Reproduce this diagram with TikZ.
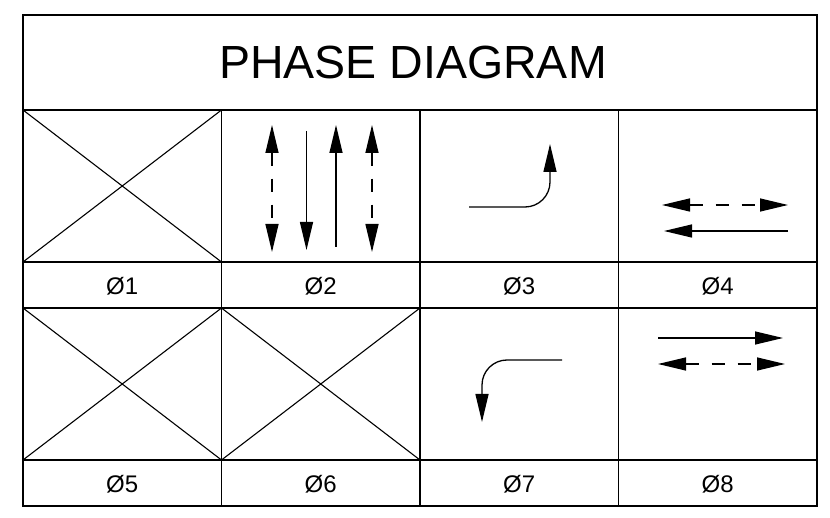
\documentclass[tikz,border=0pt]{standalone}
\usepackage{fontspec}
\setmainfont{Liberation Sans}
\usetikzlibrary{arrows.meta}
\begin{document}
\begin{tikzpicture}[x=1pt,y=-1pt,
  grid/.style={line width=1.9pt},
  cross/.style={line width=1.1pt},
  arr/.style={line width=1.3pt,-{Triangle[length=28pt,width=13pt]}},
  darr/.style={line width=1.3pt,{Triangle[length=28pt,width=13pt]}-{Triangle[length=28pt,width=13pt]},dash pattern=on 13pt off 13pt},
  lbl/.style={font=\fontsize{24}{26}\selectfont,inner sep=0pt},
  ttl/.style={font=\fontsize{46.5}{50}\selectfont,inner sep=0pt}]
\useasboundingbox (0,0) rectangle (830,518);
% grid
\draw[grid] (23,15) rectangle (817,506);
\draw[grid] (23,110) -- (817,110);
\draw[grid] (23,262) -- (817,262);
\draw[grid] (23,308) -- (817,308);
\draw[grid] (23,460) -- (817,460);
\foreach \x in {221.5,420,618.5} \draw[grid] (\x,110) -- (\x,506);
% title
\node[ttl] (title) at (413,62) {PHASE DIAGRAM};
% crosses
\draw[cross] (23,110) -- (221.5,262) (221.5,110) -- (23,262);
\draw[cross] (23,308) -- (221.5,460) (221.5,308) -- (23,460);
\draw[cross] (221.5,308) -- (420,460) (420,308) -- (221.5,460);
% phase 2
\coordinate (a1t) at (272,125); \coordinate (a1b) at (272,252);
\coordinate (a2t) at (306.5,131); \coordinate (a2b) at (306.5,250);
\coordinate (a3t) at (336,125); \coordinate (a3b) at (336,247);
\coordinate (a4t) at (372,125); \coordinate (a4b) at (372,252);
\draw[darr] (a1t) -- (a1b);
\draw[arr] (a2t) -- (a2b);
\draw[arr] (a3b) -- (a3t);
\draw[darr] (a4t) -- (a4b);
% phase 3
\coordinate (p3s) at (469,207); \coordinate (p3e) at (550,144);
\draw[arr] (p3s) -- (525,207) arc[start angle=90,end angle=0,radius=25] -- (p3e);
% phase 4
\coordinate (p4a) at (662,205); \coordinate (p4b) at (788,205);
\coordinate (p4c) at (788,231); \coordinate (p4d) at (664,231);
\draw[darr] (p4a) -- (p4b);
\draw[arr] (p4c) -- (p4d);
% phase 7
\coordinate (p7s) at (562,360); \coordinate (p7e) at (482,422);
\draw[arr] (p7s) -- (507,360) arc[start angle=270,end angle=180,radius=25] -- (p7e);
% phase 8
\coordinate (p8a) at (658,338); \coordinate (p8b) at (783,338);
\coordinate (p8c) at (658,364); \coordinate (p8d) at (785,364);
\draw[arr] (p8a) -- (p8b);
\draw[darr] (p8c) -- (p8d);
% labels
\node[lbl] (l1) at (122.25,286) {Ø1};
\node[lbl] (l2) at (320.75,286) {Ø2};
\node[lbl] (l3) at (519.25,286) {Ø3};
\node[lbl] (l4) at (717.75,286) {Ø4};
\node[lbl] (l5) at (122.25,484) {Ø5};
\node[lbl] (l6) at (320.75,484) {Ø6};
\node[lbl] (l7) at (519.25,484) {Ø7};
\node[lbl] (l8) at (717.75,484) {Ø8};
\end{tikzpicture}
\end{document}
